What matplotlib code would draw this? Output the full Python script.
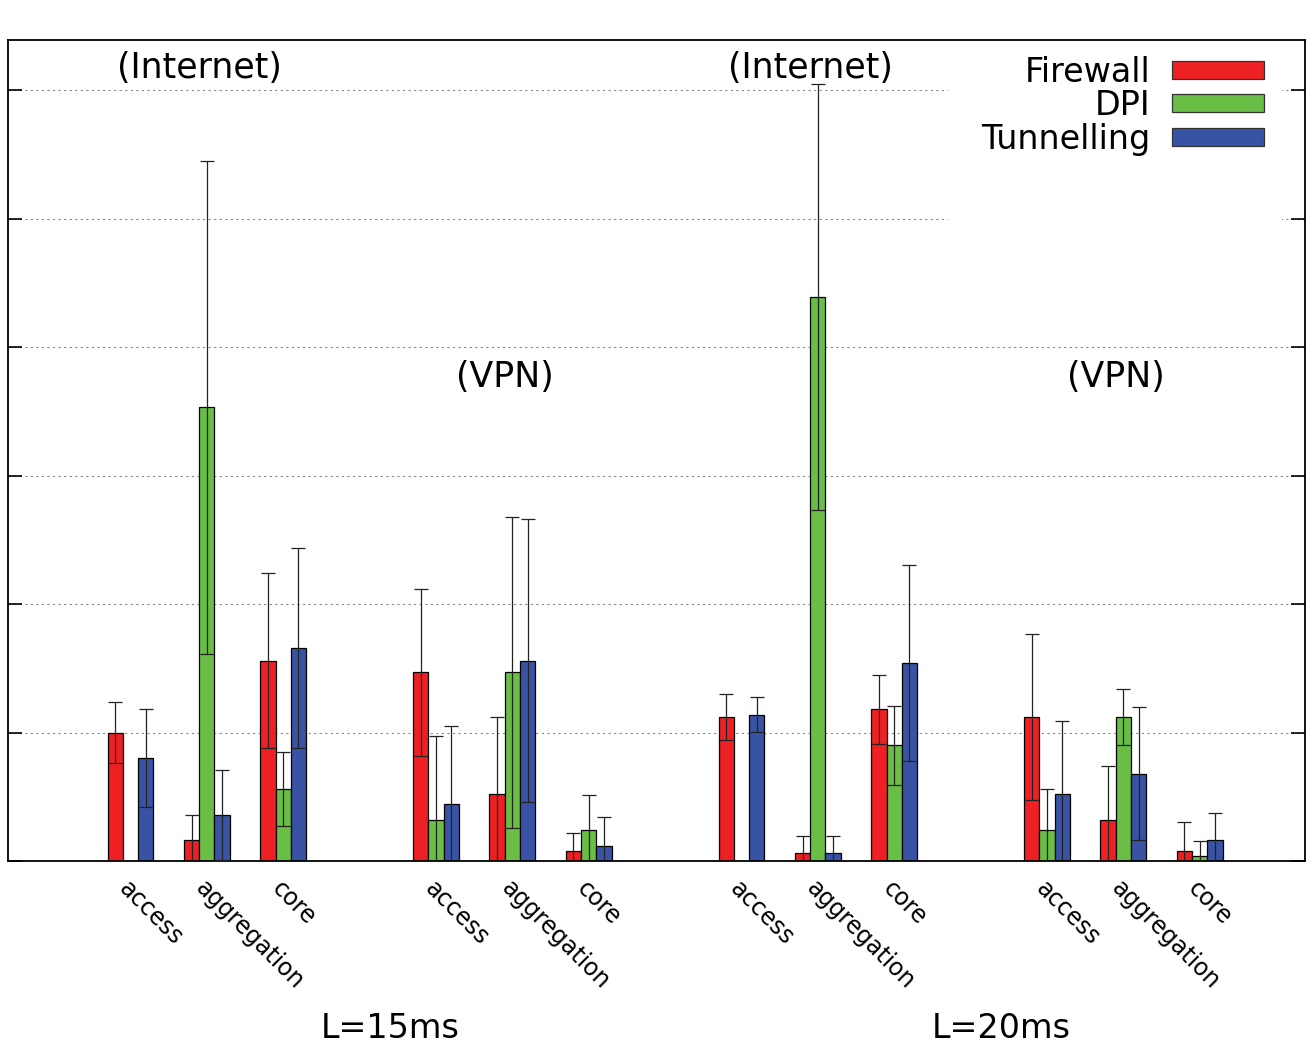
import numpy as np
import matplotlib
matplotlib.use("Agg")
import matplotlib.pyplot as plt
from matplotlib.patches import Patch, Rectangle

# ---- data ----
clusters = ["L=15ms Internet", "L=15ms VPN", "L=20ms Internet", "L=20ms VPN"]
categories = ["access", "aggregation", "core"]
series = ["Firewall", "DPI", "Tunnelling"]
colors = ["#ED2024", "#6ABD45", "#3953A4"]

# values per cluster: [access, aggregation, core]
firewall = [[1.00, 0.16, 1.56], [1.47, 0.52, 0.08], [1.12, 0.06, 1.18], [1.12, 0.32, 0.08]]
firewall_err = [[0.24, 0.20, 0.68], [0.65, 0.60, 0.135], [0.18, 0.137, 0.27], [0.645, 0.42, 0.22]]
dpi = [[np.nan, 3.53, 0.56], [0.32, 1.47, 0.24], [np.nan, 4.39, 0.90], [0.24, 1.12, 0.04]]
dpi_err = [[np.nan, 1.92, 0.29], [0.65, 1.21, 0.27], [np.nan, 1.66, 0.31], [0.32, 0.22, 0.115]]
tunnel = [[0.80, 0.36, 1.66], [0.44, 1.56, 0.12], [1.14, 0.06, 1.54], [0.52, 0.68, 0.16]]
tunnel_err = [[0.38, 0.35, 0.78], [0.61, 1.10, 0.22], [0.135, 0.137, 0.76], [0.57, 0.515, 0.21]]

group_labels = ["(Internet)", "(VPN)", "(Internet)", "(VPN)"]
group_label_y = [6.17, 3.77, 6.17, 3.77]
latency_labels = ["L=15ms", "L=20ms"]

values = [firewall, dpi, tunnel]
errors = [firewall_err, dpi_err, tunnel_err]

plt.rcParams['font.family'] = ['DejaVu Sans']
fig = plt.figure(figsize=(13.14, 10.5), dpi=100)
ax = fig.add_axes([8/1314, 1-861/1050, (1305-8)/1314, (861-40)/1050])

w = 0.2
centers = []
for c in range(len(clusters)):
    for j in range(len(categories)):
        centers.append(c*4 + j)
centers = np.array(centers, dtype=float)

for s in range(3):
    h = np.array([v for cl in values[s] for v in cl], dtype=float)
    e = np.array([v for cl in errors[s] for v in cl], dtype=float)
    xs = centers + (s-1)*w
    ax.bar(xs, h, width=w, color=colors[s], edgecolor='black', linewidth=0.9, zorder=2)
    ax.errorbar(xs, h, yerr=e, fmt='none', ecolor='#222222', elinewidth=0.9,
                capsize=4.7, capthick=0.9, zorder=3)

ax.set_xlim(-1.604, 15.38)
ax.set_ylim(0, 6.39)
ax.set_yticks(range(0, 7))
ax.set_yticklabels([])
ax.tick_params(axis='y', direction='in', length=10, width=1.2, left=True, right=True)
ax.set_xticks(centers)
ax.set_xticklabels([])
ax.tick_params(axis='x', length=0)
for x, lab in zip(centers, categories*4):
    ax.annotate(lab, xy=(x, 0), xycoords=('data', 'axes fraction'),
                xytext=(-5.5, -17), textcoords='offset points',
                rotation=-45, rotation_mode='anchor', ha='left', va='center',
                fontsize=17)

ax.set_axisbelow(True)
ax.yaxis.grid(True, color='#888888', linestyle=(0, (2, 3)), linewidth=0.8)
for sp in ax.spines.values():
    sp.set_linewidth(1.3)

# white box behind legend
ax.add_patch(Rectangle((0.7248, 0.7747), 0.9823-0.7248, 1-0.7747, transform=ax.transAxes,
                       facecolor='white', edgecolor='none', zorder=0.7))

for c in range(4):
    ax.text(c*4 + 0.9, group_label_y[c], group_labels[c], ha='center', va='center', fontsize=25)

for i, lab in enumerate(latency_labels):
    ax.annotate(lab, xy=(3.4 + 8*i, 0), xycoords=('data', 'axes fraction'),
                xytext=(0, -(1028-861)*72/100), textcoords='offset points', fontsize=24,
                ha='center', va='center', annotation_clip=False)

handles = [Patch(facecolor=colors[i], edgecolor='#333333', linewidth=0.9) for i in range(3)]
leg = ax.legend(handles, series, loc='upper right', bbox_to_anchor=(0.9684, 0.981),
                frameon=False, markerfirst=False, fontsize=24, handlelength=2.76,
                handleheight=0.45, handletextpad=0.64, labelspacing=0.02,
                borderpad=0, borderaxespad=0)

fig.savefig("out.png", dpi=100)
